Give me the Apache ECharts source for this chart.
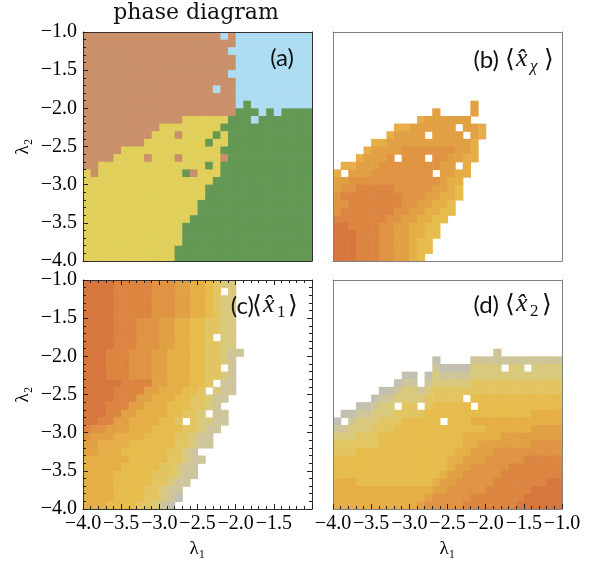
<!DOCTYPE html>
<html><head><meta charset="utf-8">
<script src="https://cdn.jsdelivr.net/npm/echarts@6/dist/echarts.min.js"></script>
<style>html,body{margin:0;padding:0;background:#fff}#c{width:600px;height:564px}</style>
</head><body><div id="c"></div>
<script>
// ---- axis range and ticks ----
const lambdaMin = -4.0, lambdaMax = -1.0, cellStep = 0.1;
const tickInterval = 0.5;
// ---- panel (a): phases  B=brown C=cyan Y=yellow G=green (rows top->bottom, cols left->right) ----
const phaseCodes = ['B', 'C', 'Y', 'G'];
const phaseRows = [
"BBBBBBBBBBBBBBBBBBCBCCCCCCCCCC",
"BBBBBBBBBBBBBBBBBBBBCCCCCCCCCC",
"BBBBBBBBBBBBBBBBBBBCCCCCCCCCCC",
"BBBBBBBBBBBBBBBBBBBBCCCCCCCCCC",
"BBBBBBBBBBBBBBBBBBBBCCCCCCCCCC",
"BBBBBBBBBBBBBBBBBBBCCCCCCCCCCC",
"BBBBBBBBBBBBBBBBBBBBCCCCCCCCCC",
"BBBBBBBBBBBBBBBBBCBBCCCCCCCCCC",
"BBBBBBBBBBBBBBBBBBBBCCCCCCCCCC",
"BBBBBBBBBBBBBBBBBBBBCGCCCCCCCC",
"BBBBBBBBBBBBBBBBBBBBGGGCGCGGGG",
"BBBBBBBBBBBBBYYYYYYGGGCGGGGGGG",
"BBBBBBBBBBYYYYYYYYGGGGGGGGGGGG",
"BBBBBBBBBYYYBYYYYGYGGGGGGGGGGG",
"BBBBBBBBYYYYYYYYGYYGGGGGGGGGGG",
"BBBBBYYYYYYYYYYYYYGGGGGGGGGGGG",
"BBBBYYYYBYYYBYYYYYBGGGGGGGGGGG",
"BBYYYYYYYYYYYYYYGYGGGGGGGGGGGG",
"YBYYYYYYYYYYYGBYYYGGGGGGGGGGGG",
"YYYYYYYYYYYYYYYYYGGGGGGGGGGGGG",
"YYYYYYYYYYYYYYYYGGGGGGGGGGGGGG",
"YYYYYYYYYYYYYYYYGGGGGGGGGGGGGG",
"YYYYYYYYYYYYYYYGGGGGGGGGGGGGGG",
"YYYYYYYYYYYYYYYGGGGGGGGGGGGGGG",
"YYYYYYYYYYYYYYGGGGGGGGGGGGGGGG",
"YYYYYYYYYYYYYGGGGGGGGGGGGGGGGG",
"YYYYYYYYYYYYYGGGGGGGGGGGGGGGGG",
"YYYYYYYYYYYYYGGGGGGGGGGGGGGGGG",
"YYYYYYYYYYYYGGGGGGGGGGGGGGGGGG",
"YYYYYYYYYYYYGGGGGGGGGGGGGGGGGG"
];
// ---- panels (b),(c),(d): level 0 (grey) .. 9 (deep orange), '.' = no value ----
const xChiRows = [
"","","","","","","","","",
"..................6",
".............6....6",
"...........5666666.",
"........55666666.665",
".......56666.6666.65",
".....55666666666665",
"....566667777777665",
"...56667.777.776655",
".556667777777766.5",
"5.66677777777.6655",
"66777777777777655",
"67788888777776654",
"78888888877766554",
"7788888887766554",
"7888888877665544",
"888888877665544",
"99888877665544",
"99988877665544",
"9998887766544",
"9998887766544",
"999888776654"
];
const x1Rows = [
"99998888877766554322",
"999988888777665543.2",
"99998888877766554322",
"99998888877766554322",
"99998888877766554322",
"99998887776655443322",
"99998887776655443322",
"99998887776655443.22",
"99998887776655443322",
"999888777665554433211",
"99988877766555443321",
"999888777665554433.1",
"99988877766555443321",
"99999888866555443.11",
"9999888866555443.211",
"9999888665554433211",
"999888665554443321.",
"9998866555544332.11",
"9988665555443.32211",
"877666555444433211",
"76665555444433211",
"66555544444433211",
"665554444443321.",
"5555554444433211",
"555554444433211",
"555544444333211",
"55554444433211",
"5555444433211",
"5555444433210",
"555444433210"
];
const x2Rows = [
"","","","","","","","","",
".....................1",
".............0....111111111111",
".............100002222.22.2222",
".........00.021111222222222222",
"........011.122222333333333333",
"......001221233333333333333333",
".....011222233333.444444444444",
"...00122.33.344444.44444444444",
".00112223333444444444444445555",
"0.122233344444.444555555555555",
"112223334444444444445555556666",
"222333444444444445555566666666",
"333333444444444445566666667777",
"333444444444444455666777777777",
"444444444444444556667777788888",
"444444444444444566777778888888",
"444444444444445667777788888888",
"555444444444456677777888888899",
"555555555555566777778888889999",
"555555555555677777888888899999",
"555555555556777778888888999999"
];

// ---- styles ----
const phaseColors = ['#c9906a', '#aedcf2', '#e0d05b', '#639855'];
const levelColors = ['#c3c0b2','#cec69a','#d9c97c','#e2c562','#e6bc4d','#e5ae47','#e2a044','#df9343','#db8541','#d7773e'];
const frameColors = ['#333333', '#808080', '#333333', '#808080'];

function toCells(rows, decode) {
  const out = [];
  rows.forEach((row, r) => {
    for (let c = 0; c < row.length; c++) {
      const ch = row[c];
      if (ch === '.' || ch === ' ') continue;
      out.push([lambdaMin + (c + 0.5) * cellStep, lambdaMax - (r + 0.5) * cellStep, decode(ch)]);
    }
  });
  return out;
}
const phaseData = toCells(phaseRows, ch => phaseCodes.indexOf(ch));
const xChiData = toCells(xChiRows, ch => +ch);
const x1Data = toCells(x1Rows, ch => +ch);
const x2Data = toCells(x2Rows, ch => +ch);

function renderCell(params, api) {
  const x = api.value(0), y = api.value(1);
  const p = api.coord([x - cellStep / 2, y + cellStep / 2]);
  const s = api.size([cellStep, cellStep]);
  return { type: 'rect', shape: { x: p[0], y: p[1], width: s[0] + 0.6, height: s[1] + 0.6 },
           style: { fill: api.visual('color') } };
}

const grids = [
  { left: 83, top: 32, width: 229, height: 229 },
  { left: 333, top: 32, width: 229, height: 229 },
  { left: 83, top: 280, width: 229, height: 229 },
  { left: 333, top: 280, width: 229, height: 229 }
];
// ticks per panel: [bottom, top, left, right]
const tickFlags = [[0,0,1,0],[0,0,0,0],[1,1,1,1],[1,0,0,0]];
const xLabelShow = [false, false, true, true];
const yLabelShow = [true, false, true, false];
const fmt = v => (v < 0 ? '\u2212' : '') + Math.abs(v).toFixed(1);
const tickFont = { fontFamily: 'Liberation Serif', fontSize: 20, color: '#000' };

function makeAxis(kind, i, pos, ticks, labels) {
  const ax = {
    type: 'value', gridIndex: i, min: lambdaMin, max: lambdaMax, interval: tickInterval,
    position: pos, z: 10,
    axisLine: { show: true, onZero: false, lineStyle: { color: frameColors[i], width: 1 } },
    axisTick: { show: ticks, inside: true, length: 5, lineStyle: { color: '#222', width: 1 } },
    minorTick: { show: ticks, splitNumber: 5, length: 3, lineStyle: { color: '#222', width: 1 } },
    splitLine: { show: false }, minorSplitLine: { show: false },
    axisLabel: { show: labels, margin: kind === 'x' ? 5 : 6, showMinLabel: true, showMaxLabel: true,
      formatter: v => (kind === 'x' && i === 2 && Math.abs(v - lambdaMax) < 1e-9) ? '' : fmt(v),
      fontFamily: tickFont.fontFamily, fontSize: tickFont.fontSize, color: tickFont.color }
  };
  if (labels) {
    ax.name = kind === 'x' ? '\u03bb\u2081' : '\u03bb\u2082';
    ax.nameLocation = 'middle';
    ax.nameGap = kind === 'x' ? 31 : 50;
    if (kind === 'y') ax.nameRotate = 90;
    ax.nameTextStyle = { fontFamily: 'Liberation Serif', fontSize: 19, color: '#000' };
  }
  return ax;
}
const xAxes = [], yAxes = [];
for (let i = 0; i < 4; i++) {
  xAxes.push(makeAxis('x', i, 'bottom', !!tickFlags[i][0], xLabelShow[i]));
  xAxes.push(makeAxis('x', i, 'top', !!tickFlags[i][1], false));
  yAxes.push(makeAxis('y', i, 'left', !!tickFlags[i][2], yLabelShow[i]));
  yAxes.push(makeAxis('y', i, 'right', !!tickFlags[i][3], false));
}

const seriesData = [phaseData, xChiData, x1Data, x2Data];
const series = seriesData.map((d, i) => ({
  type: 'custom', xAxisIndex: 2 * i, yAxisIndex: 2 * i, data: d, renderItem: renderCell,
  encode: { x: 0, y: 1 }, clip: true, z: 2, silent: true
}));

function txt(text, x, y, font, align) {
  return { type: 'text', x: x, y: y, z: 50,
    style: { text: text, font: font, fill: '#111', align: align || 'left', textAlign: align || 'left',
             verticalAlign: 'middle', textVerticalAlign: 'middle' } };
}
const sansFont = '24px Lato, sans-serif';
const mathFont = 'italic 26px "Liberation Serif", serif';
const brFont = '25px "DejaVu Serif", serif';
const subItal = 'italic 17px "Liberation Serif", serif';
const subUp = '17px "Liberation Serif", serif';

const graphics = [
  txt('phase diagram', 196, 13, '22px "DejaVu Serif", serif', 'center'),
  txt('(a)', 294, 58, sansFont, 'right'),
  txt('(b)', 499, 60, sansFont, 'right'),
  txt('\u27e8', 505, 60, brFont), txt('x\u0302', 516, 59, mathFont), txt('\u03c7', 530, 67, subItal), txt('\u27e9', 544, 60, brFont),
  txt('(c)', 254, 306, sansFont, 'right'),
  txt('\u27e8', 252, 306, brFont), txt('x\u0302', 263, 305, mathFont), txt('1', 277, 313, subUp), txt('\u27e9', 288, 306, brFont),
  txt('(d)', 499, 305, sansFont, 'right'),
  txt('\u27e8', 505, 305, brFont), txt('x\u0302', 516, 304, mathFont), txt('2', 530, 312, subUp), txt('\u27e9', 542, 305, brFont)
];

const chart = echarts.init(document.getElementById('c'), null, { renderer: 'canvas' });
chart.setOption({
  animation: false,
  backgroundColor: '#ffffff',
  grid: grids,
  xAxis: xAxes,
  yAxis: yAxes,
  visualMap: [
    { type: 'piecewise', show: false, seriesIndex: 0, dimension: 2,
      pieces: phaseColors.map((c, k) => ({ value: k, color: c })) },
    { type: 'continuous', show: false, seriesIndex: [1, 2, 3], dimension: 2, min: 0, max: 9,
      inRange: { color: levelColors } }
  ],
  series: series,
  graphic: graphics
});
</script></body></html>
